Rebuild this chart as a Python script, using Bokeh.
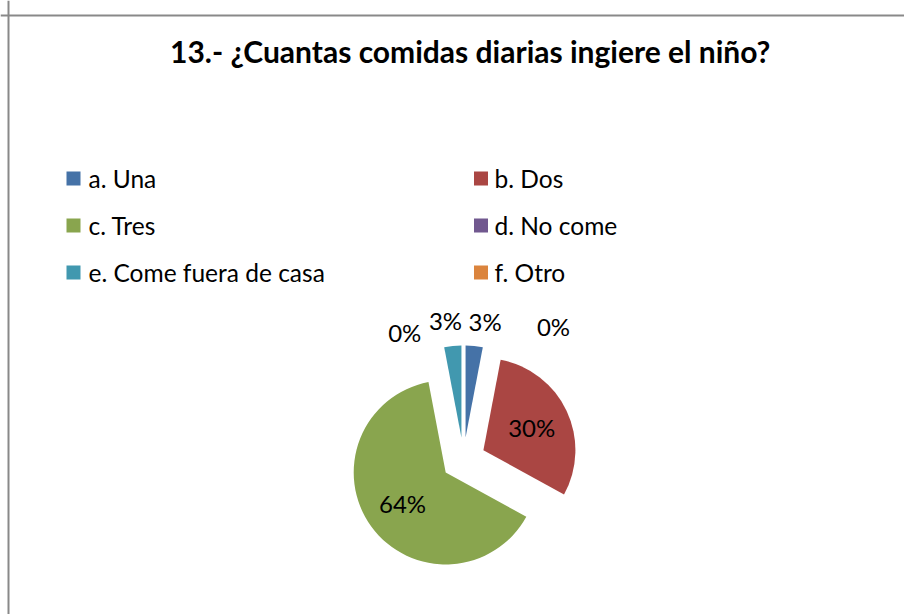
import math
from bokeh.plotting import figure
from bokeh.models import Range1d, Span
from bokeh.core.properties import value
from bokeh.embed import file_html
from bokeh.resources import INLINE

# ---------------- data ----------------
title_text = "13.-  ¿Cuantas comidas diarias  ingiere el niño?"
categories = ["a. Una", "b. Dos", "c. Tres", "d. No come", "e.  Come fuera de casa", "f. Otro"]
percent = [3, 30, 64, 0, 3, 0]
colors = ["#4572A7", "#AA4643", "#89A54E", "#71588F", "#4198AF", "#DB843D"]

# label placement tweaks (degrees / pixels) for crowded outside labels
label_angle_nudge = [3.5, 0, 0, -14, -2, 34]
label_dist_nudge = [0, 0, 0, 0, 0, 21]

FONT = "Lato"
W, H = 904, 614

p = figure(width=W, height=H, x_range=Range1d(0, W), y_range=Range1d(0, H),
           output_backend="svg", toolbar_location=None, min_border=0,
           x_axis_location=None, y_axis_location=None)
p.grid.visible = False
p.outline_line_color = None
p.background_fill_color = "white"
p.border_fill_color = "white"

# chart-area border (cropped: only top and left visible)
p.add_layout(Span(location=8, dimension="height", line_color="#898989", line_width=2))
p.add_layout(Span(location=599, dimension="width", line_color="#898989", line_width=2))

# title
p.text(x=[477], y=[564], text=[title_text], text_align="center", text_baseline="middle",
       text_font=value(FONT), text_font_style="bold", text_font_size="30px", text_color="black")

# legend (2 columns x 3 rows)
lx_sq, lx_tx, ly = [], [], []
for i in range(len(categories)):
    col, row = i % 2, i // 2
    lx_sq.append(73 + 407.5 * col)
    lx_tx.append(88 + 406 * col)
    ly.append(614 - (178 + 47 * row))
p.rect(x=lx_sq, y=ly, width=14, height=14, fill_color=colors, line_color=None)
p.text(x=lx_tx, y=ly, text=categories, text_align="left", text_baseline="middle",
       text_font=value(FONT), text_font_size="24.5px", text_color="black")

# pie
cx, cy, r, ex = 463, 155, 92, 22
total = float(sum(percent))
starts, ends, wx, wy, wc = [], [], [], [], []
lab_x, lab_y, lab_t = [], [], []
cum = 0.0
for i, v in enumerate(percent):
    f0, f1 = cum / total, (cum + v) / total
    cum += v
    mid = math.radians(90 - 360 * (f0 + f1) / 2)
    ox, oy = cx + ex * math.cos(mid), cy + ex * math.sin(mid)
    if v > 0:
        starts.append(math.radians(90 - 360 * f1))
        ends.append(math.radians(90 - 360 * f0))
        wx.append(ox)
        wy.append(oy)
        wc.append(colors[i])
    pct = "%d%%" % round(100 * v / total)
    if v / total >= 0.1:
        d = ex + 0.58 * r
        a = mid
    else:
        d = ex + r + 26 + label_dist_nudge[i]
        a = mid - math.radians(label_angle_nudge[i])
    lab_x.append(cx + d * math.cos(a))
    lab_y.append(cy + d * math.sin(a))
    lab_t.append(pct)

p.wedge(x=wx, y=wy, radius=r, start_angle=starts, end_angle=ends, direction="anticlock",
        fill_color=wc, line_color=None)
p.text(x=lab_x, y=lab_y, text=lab_t, text_align="center", text_baseline="middle",
       text_font=value(FONT), text_font_size="24px", text_color="black")

open("out.html", "w").write(file_html(p, INLINE))
